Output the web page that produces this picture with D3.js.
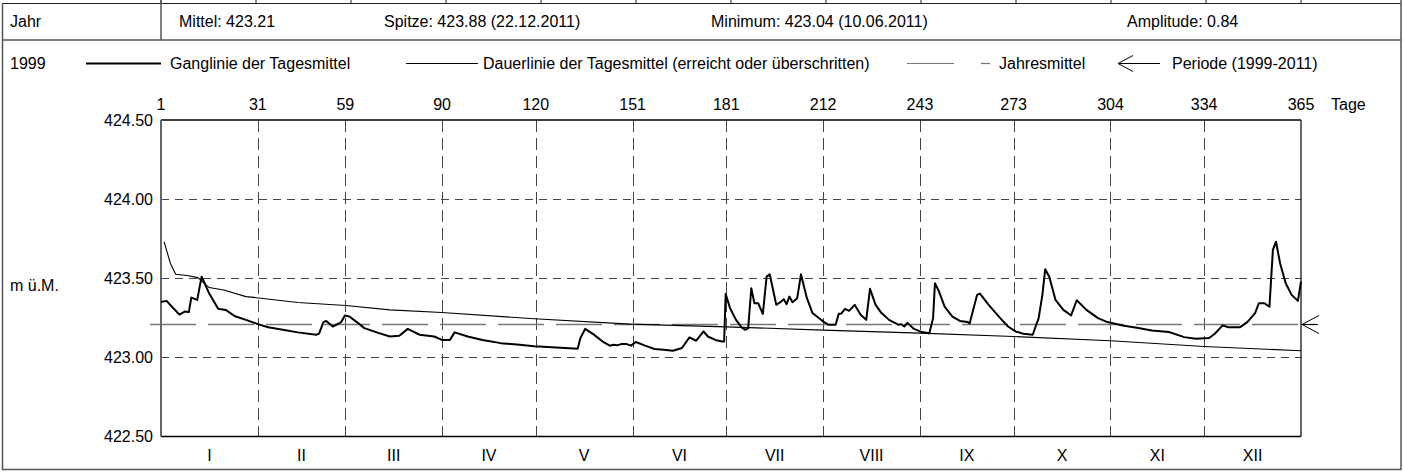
<!DOCTYPE html>
<html><head><meta charset="utf-8">
<script src="https://cdn.jsdelivr.net/npm/d3@7"></script>
<style>
html,body{margin:0;padding:0;background:#fff;}
svg text{font-family:"Liberation Sans",Arial,sans-serif;font-size:16px;fill:#000;}
</style></head>
<body><svg id="c" width="1404" height="472"></svg>
<script>
// ---- data ----
const dayTicks = [0, 31, 59, 90, 120, 151, 181, 212, 243, 273, 304, 334, 365];
const dayLabels = ["1", "31", "59", "90", "120", "151", "181", "212", "243", "273", "304", "334", "365"];
const months = ["I", "II", "III", "IV", "V", "VI", "VII", "VIII", "IX", "X", "XI", "XII"];
const yTicks = [424.5, 424.0, 423.5, 423.0, 422.5];
const yGrid = [424.0, 423.5, 423.0];
const jahresmittel = 423.21;
const periodeMittel = 423.21;
const headerTexts = ["Mittel: 423.21", "Spitze: 423.88 (22.12.2011)", "Minimum: 423.04 (10.06.2011)", "Amplitude: 0.84"];
const legendTexts = ["Ganglinie der Tagesmittel", "Dauerlinie der Tagesmittel (erreicht oder überschritten)", "Jahresmittel", "Periode (1999-2011)"];
const jahr = "1999";

// Ganglinie der Tagesmittel (day, value)
const gangDay = [0,1.8,3.5,5.9,7.7,8.9,9.7,11.6,13.0,15.4,18.3,20.7,23.7,27.2,31,34.3,39,43.8,49.7,50.6,52,52.9,55,57.7,58.9,60.3,62.7,65.1,69.8,73.3,76.3,79,82.8,87.5,89.9,92.5,94,98.2,102.9,108.8,114.8,119.5,126.6,133.4,134.3,135.8,138.4,141.4,143.7,144.9,146.1,147.3,149.1,150.5,152,155,158,160.9,163.9,166.8,169.2,171.3,173.7,175.1,177.5,179.6,180.3,180.8,182.2,184.1,185.9,187.1,188,189,190,191.2,192.7,193.9,194.9,197,198.6,199.4,200.3,201.2,202.2,203.7,204.9,206.8,208.6,210.4,212.3,213.8,216,217,217.8,219,220.3,222.1,224,225.8,227,228.8,230.7,233.1,236.2,237,238,239,241.1,243.6,246,247.2,247.8,249.1,250.9,253.4,255.8,258.3,258.9,261.3,262.2,265,268.7,271.2,273.6,276.1,279.1,281,282.2,283.1,284.4,286.4,288.9,291.4,293.2,296.3,300,303,307.9,312.9,317.2,322.7,327.6,331.3,335.6,337.4,339.9,341.7,345.4,347.8,350.3,351.5,353.3,354.9,356,357,358.3,360.1,362,364,365];
const gangVal = [423.35,423.357,423.32,423.27,423.29,423.286,423.378,423.363,423.51,423.405,423.307,423.30,423.26,423.237,423.21,423.19,423.174,423.158,423.143,423.15,423.223,423.23,423.195,423.223,423.265,423.258,423.223,423.185,423.153,423.132,423.136,423.18,423.143,423.132,423.11,423.11,423.158,423.132,423.11,423.09,423.08,423.07,423.063,423.055,423.122,423.18,423.147,423.10,423.074,423.08,423.076,423.084,423.084,423.074,423.097,423.074,423.053,423.048,423.042,423.059,423.126,423.105,423.164,423.132,423.11,423.10,423.10,423.40,423.31,423.237,423.19,423.174,423.185,423.437,423.342,423.342,423.275,423.51,423.525,423.332,423.353,423.368,423.336,423.384,423.349,423.374,423.525,423.374,423.28,423.252,423.223,423.206,423.206,423.275,423.277,423.307,423.294,423.332,423.27,423.237,423.433,423.332,423.28,423.237,423.206,423.21,423.195,423.218,423.18,423.16,423.153,423.248,423.468,423.416,423.321,423.258,423.23,423.223,423.214,423.395,423.403,423.332,423.248,423.195,423.164,423.149,423.143,423.248,423.395,423.557,423.51,423.363,423.30,423.265,423.361,423.30,423.248,423.223,423.202,423.185,423.17,423.16,423.128,423.118,423.122,423.149,423.202,423.19,423.19,423.223,423.28,423.342,423.342,423.32,423.679,423.731,423.595,423.468,423.395,423.357,423.479];

// Dauerlinie der Tagesmittel (day, value)
const dauerDay = [1,3,4.7,8.3,11.8,15.4,20.1,27.2,32,43.8,59.2,73.3,89.9,119.5,150.2,181,212,243,273,304,334,365];
const dauerVal = [423.73,423.595,423.525,423.517,423.504,423.441,423.426,423.384,423.374,423.347,423.328,423.30,423.284,423.244,423.21,423.193,423.172,423.153,423.132,423.105,423.069,423.042];

// ---- drawing ----
const svg = d3.select("#c");
const L = 161, R = 1301, T = 120, B = 436.5;
const x = d3.scaleLinear().domain([0, 365]).range([L, R]);
const y = d3.scaleLinear().domain([422.5, 424.5]).range([B, T]);
const txt = (g, xx, yy, s, anchor) => g.append("text").attr("x", xx).attr("y", yy)
  .attr("dominant-baseline", "central").attr("text-anchor", anchor || "start").text(s);

// outer frame / header table
const fr = svg.append("g").attr("stroke", "#555").attr("fill", "none");
fr.append("line").attr("x1", 2).attr("x2", 1401).attr("y1", 3.5).attr("y2", 3.5).attr("stroke", "#222");
fr.append("line").attr("x1", 2.5).attr("x2", 2.5).attr("y1", 3).attr("y2", 470).attr("stroke-width", 1.5);
fr.append("line").attr("x1", 1401).attr("x2", 1401).attr("y1", 0).attr("y2", 470).attr("stroke-width", 1.5);
fr.append("line").attr("x1", 2).attr("x2", 1401).attr("y1", 469.5).attr("y2", 469.5).attr("stroke-width", 1.5);
fr.append("line").attr("x1", 2).attr("x2", 1401).attr("y1", 40).attr("y2", 40).attr("stroke-width", 1.5);
const topTicks = d3.range(13).map(k => L + k * (R - L) / 12);
fr.selectAll(".tt").data(topTicks).join("line").attr("x1", d => d).attr("x2", d => d)
  .attr("y1", 0).attr("y2", 3).attr("stroke", "#222");
fr.append("line").attr("x1", L).attr("x2", L).attr("y1", 0).attr("y2", 40).attr("stroke-width", 1.5);

const hdr = svg.append("g");
txt(hdr, 10, 21.5, "Jahr");
const hx = [179, 384, 711, 1127];
headerTexts.forEach((s, i) => txt(hdr, hx[i], 21.5, s));

// legend
const lg = svg.append("g");
const ly = 63.5;
txt(lg, 10, ly, jahr);
lg.append("line").attr("x1", 86).attr("x2", 161).attr("y1", ly).attr("y2", ly).attr("stroke", "#000").attr("stroke-width", 2);
txt(lg, 170, ly, legendTexts[0]);
lg.append("line").attr("x1", 406).attr("x2", 478).attr("y1", ly).attr("y2", ly).attr("stroke", "#000").attr("stroke-width", 1);
txt(lg, 483, ly, legendTexts[1]);
lg.append("line").attr("x1", 907).attr("x2", 954).attr("y1", ly).attr("y2", ly).attr("stroke", "#777").attr("stroke-width", 1.2);
lg.append("line").attr("x1", 981).attr("x2", 990).attr("y1", ly).attr("y2", ly).attr("stroke", "#777").attr("stroke-width", 1.2);
txt(lg, 999, ly, legendTexts[2]);
lg.append("line").attr("x1", 1118).attr("x2", 1160).attr("y1", ly).attr("y2", ly).attr("stroke", "#000").attr("stroke-width", 1);
lg.append("path").attr("d", `M1133,${ly - 8} L1118,${ly} L1133,${ly + 8}`).attr("fill", "none").attr("stroke", "#000").attr("stroke-width", 1);
txt(lg, 1172, ly, legendTexts[3]);

// grid
const grid = svg.append("g").attr("stroke", "#444").attr("stroke-width", 1).attr("fill", "none");
grid.selectAll(".hg").data(yGrid).join("line").attr("x1", L).attr("x2", R)
  .attr("y1", d => Math.round(y(d)) + 0.5).attr("y2", d => Math.round(y(d)) + 0.5).attr("stroke-dasharray", "8,6");
grid.selectAll(".vg").data(dayTicks.slice(1, -1)).join("line")
  .attr("x1", d => Math.round(x(d)) + 0.5).attr("x2", d => Math.round(x(d)) + 0.5)
  .attr("y1", T).attr("y2", B).attr("stroke-dasharray", "12,6");

// Jahresmittel line + Periode arrow
const ym = Math.round(y(jahresmittel)) + 0.5;
svg.append("line").attr("x1", 150).attr("x2", 1317).attr("y1", ym).attr("y2", ym)
  .attr("stroke", "#777").attr("stroke-width", 1.3).attr("stroke-dasharray", "46,12");
const yp = Math.round(y(periodeMittel)) + 0.5;
svg.append("line").attr("x1", R).attr("x2", 1318).attr("y1", yp).attr("y2", yp).attr("stroke", "#000");
svg.append("path").attr("d", `M${R + 18},${yp - 9} L${R + 1},${yp} L${R + 18},${yp + 9}`)
  .attr("fill", "none").attr("stroke", "#000");

// frame of plot
const pf = svg.append("g").attr("fill", "none");
pf.append("line").attr("x1", L).attr("x2", R).attr("y1", T).attr("y2", T).attr("stroke", "#000").attr("stroke-width", 1.3);
pf.append("line").attr("x1", L).attr("x2", R).attr("y1", B).attr("y2", B).attr("stroke", "#000").attr("stroke-width", 1.3);
pf.append("line").attr("x1", L).attr("x2", L).attr("y1", T).attr("y2", B).attr("stroke", "#666").attr("stroke-width", 2);
pf.append("line").attr("x1", R).attr("x2", R).attr("y1", T).attr("y2", B).attr("stroke", "#000").attr("stroke-width", 1.2);

// axes labels
const ax = svg.append("g");
yTicks.forEach(v => txt(ax, 153, y(v), v.toFixed(2), "end"));
txt(ax, 10, 285, "m ü.M.");
dayTicks.forEach((d, i) => txt(ax, x(d), 104, dayLabels[i], "middle"));
txt(ax, 1331, 104, "Tage");
months.forEach((m, i) => txt(ax, (x(dayTicks[i]) + x(dayTicks[i + 1])) / 2, 455, m, "middle"));

// data lines
const line = d3.line().x(d => x(d[0])).y(d => y(d[1]));
svg.append("path").datum(dauerDay.map((d, i) => [d, dauerVal[i]])).attr("d", line)
  .attr("fill", "none").attr("stroke", "#000").attr("stroke-width", 1.1);
svg.append("path").datum(gangDay.map((d, i) => [d, gangVal[i]])).attr("d", line)
  .attr("fill", "none").attr("stroke", "#000").attr("stroke-width", 2).attr("stroke-linejoin", "round");
</script></body></html>
